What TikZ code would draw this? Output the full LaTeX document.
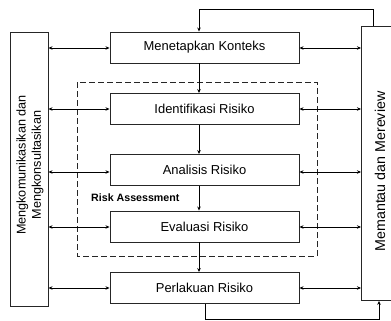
\documentclass[tikz,border=0pt]{standalone}
\usepackage{fontspec}
\setmainfont{Liberation Sans}
\usetikzlibrary{arrows.meta}
\begin{document}
\begin{tikzpicture}[x=1bp,y=-1bp,
  box/.style={draw=black!85,line width=0.9bp,minimum width=189bp,minimum height=31bp,inner sep=0pt,font=\fontsize{13}{15}\selectfont},
  side/.style={draw=black!85,line width=0.9bp,inner sep=0pt},
  arr/.style={line width=0.7bp,-{Stealth[length=4bp,width=3.5bp]}},
  darr/.style={line width=0.7bp,{Stealth[length=4bp,width=3.5bp]}-{Stealth[length=4bp,width=3.5bp]}}]
\useasboundingbox (0,0) rectangle (391,321);
% side boxes
\node[side,minimum width=38bp,minimum height=274bp] (L) at (29,169) {};
\node[rotate=90,align=center,font=\fontsize{12.7}{15.5}\selectfont] (Lt) at (30,165) {Mengkomunikasikan dan\\Mengkonsultasikan};
\node[side,minimum width=40bp,minimum height=274bp,anchor=north west] (R) at (361,26) {};
\node[rotate=90,font=\fontsize{14.3}{16}\selectfont] (Rt) at (380,171.5) {Memantau dan Mereview};
% dashed box
\draw[dashed,dash pattern=on 6bp off 3bp,line width=0.9bp,draw=black!85] (77,82) rectangle (317,256);
\node[font=\bfseries\fontsize{10.7}{12}\selectfont,anchor=west,inner sep=0pt] (ra) at (91,198) {Risk Assessment};
% center boxes
\node[box] (b1) at (204.5,47.5) {Menetapkan Konteks};
\node[box] (b2) at (204.5,109) {Identifikasi Risiko};
\node[box] (b3) at (204.5,170) {Analisis Risiko};
\node[box] (b4) at (204.5,226.5) {Evaluasi Risiko};
\node[box] (b5) at (204.5,288) {Perlakuan Risiko};
% vertical chain
\foreach \a/\b in {b1/b2,b2/b3,b3/b4,b4/b5}{
  \draw[arr] (\a.south -| 199,0) -- (\b.north -| 199,0);
}
% horizontal arrows
\foreach \y/\n in {48/b1,109/b2,172/b3,227/b4,288/b5}{
  \draw[darr] (L.east |- 0,\y) -- (\n.west |- 0,\y);
  \draw[darr] (\n.east |- 0,\y) -- (R.west |- 0,\y);
}
% feedback loops
\coordinate (t1) at (373,9.5);
\coordinate (t2) at (199,9.5);
\draw[arr] (R.north -| t1) -- (t1) -- (t2) -- (b1.north -| t2);
\coordinate (u1) at (205,319.5);
\coordinate (u2) at (379,319.5);
\draw[arr] (b5.south -| u1) -- (u1) -- (u2) -- (R.south -| u2);
\end{tikzpicture}
\end{document}
